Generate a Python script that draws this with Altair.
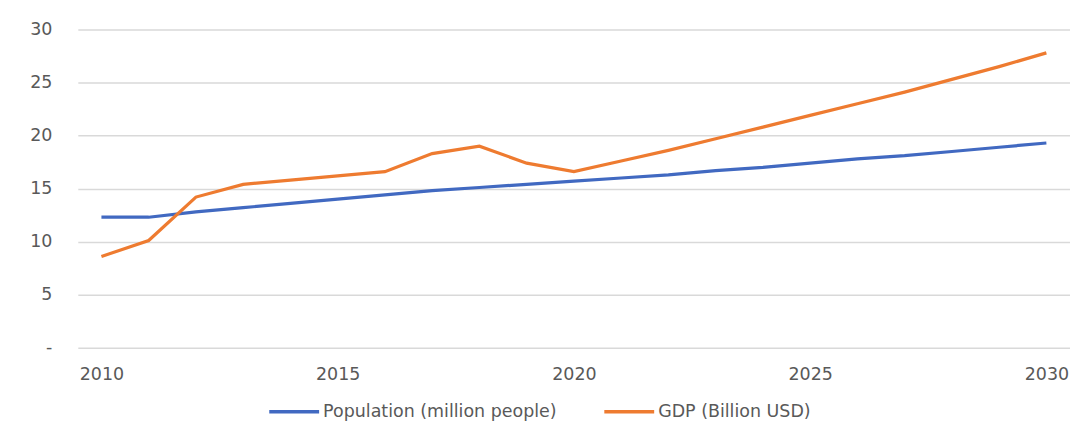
import altair as alt
import pandas as pd

years = list(range(2010, 2031))
population = [12.3, 12.3, 12.8, 13.2, 13.6, 14.0, 14.4, 14.8, 15.1, 15.4, 15.7,
              16.0, 16.3, 16.7, 17.0, 17.4, 17.8, 18.1, 18.5, 18.9, 19.3]
gdp = [8.6, 10.1, 14.2, 15.4, 15.8, 16.2, 16.6, 18.3, 19.0, 17.4, 16.6,
       17.6, 18.6, 19.7, 20.8, 21.9, 23.0, 24.1, 25.3, 26.5, 27.8]
series_names = ["Population (million people)", "GDP (Billion USD)"]
series_colors = ["#4169c1", "#ee7b30"]

rows = []
for y, p, g in zip(years, population, gdp):
    rows.append({"year": y, "series": series_names[0], "value": p})
    rows.append({"year": y, "series": series_names[1], "value": g})
df = pd.DataFrame(rows)

FONT = "DejaVu Sans"
TXT = "#595959"

chart = alt.Chart(df).mark_line(strokeWidth=3.2).encode(
    x=alt.X("year:Q",
            scale=alt.Scale(domain=[2009.5, 2030.5], nice=False, zero=False),
            axis=alt.Axis(values=[2010, 2015, 2020, 2025, 2030], format="d",
                          grid=False, domain=False, ticks=False,
                          labelPadding=18, labelFontSize=17.5, labelFont=FONT,
                          labelColor=TXT, title=None)),
    y=alt.Y("value:Q",
            scale=alt.Scale(domain=[0, 30], nice=False),
            axis=alt.Axis(values=[0, 5, 10, 15, 20, 25, 30],
                          labelExpr="datum.value == 0 ? '-' : datum.label",
                          grid=True, gridColor="#d9d9d9", gridWidth=1.5,
                          domain=False, ticks=False,
                          labelPadding=26, labelFontSize=17.5, labelFont=FONT,
                          labelColor=TXT, title=None)),
    color=alt.Color("series:N",
                    scale=alt.Scale(domain=series_names, range=series_colors),
                    sort=series_names,
                    legend=alt.Legend(orient="none", direction="horizontal",
                                      legendX=190, legendY=356, title=None,
                                      symbolType="stroke", symbolSize=2500,
                                      symbolStrokeWidth=3.5, labelOffset=2,
                                      columnPadding=40, labelFontSize=17.5,
                                      labelLimit=500,
                                      labelFont=FONT, labelColor=TXT)),
).properties(
    width=995, height=319,
    padding={"left": 70, "top": 21, "right": 0, "bottom": 80},
    autosize=alt.AutoSizeParams(type="none"),
).configure_view(stroke=None)

chart.save("out.html", embed_options={"renderer": "svg", "actions": False})
